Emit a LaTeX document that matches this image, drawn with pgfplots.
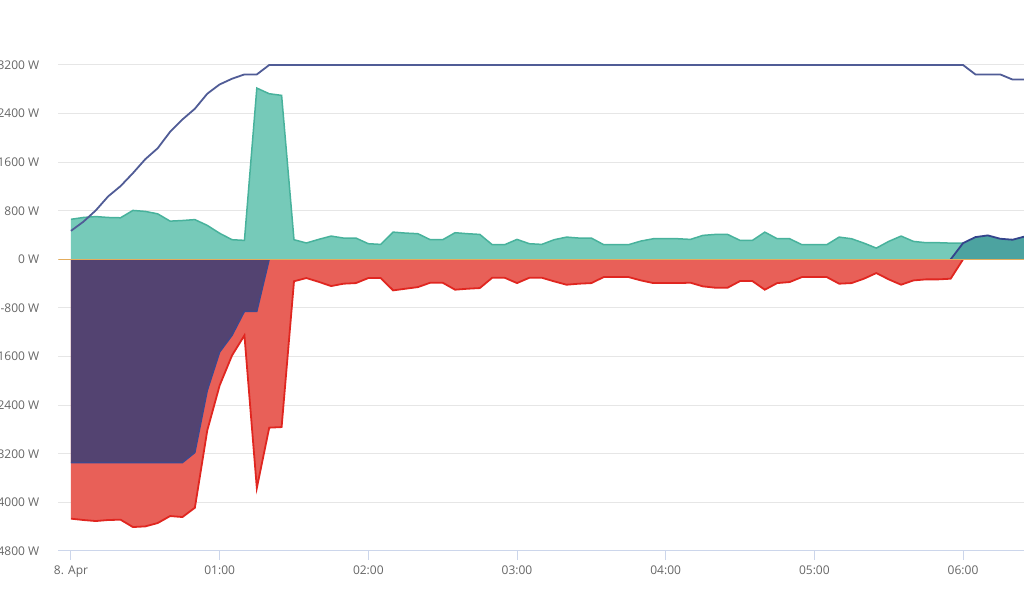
\documentclass[border=0pt]{standalone}
\usepackage{fontspec}
\setmainfont{Open Sans}
\usepackage{pgfplots}
\pgfplotsset{compat=1.18}
\usepackage{pgfplotstable}

\definecolor{tealfill}{RGB}{118,202,185}
\definecolor{tealline}{RGB}{72,178,156}
\definecolor{redfill}{RGB}{232,96,88}
\definecolor{redline}{RGB}{224,38,32}
\definecolor{purplefill}{RGB}{83,67,113}
\definecolor{purpleline}{RGB}{62,72,140}
\definecolor{darkfill}{RGB}{76,163,160}
\definecolor{darkline}{RGB}{52,68,140}
\definecolor{blueline}{RGB}{80,92,150}
\definecolor{zeroline}{RGB}{228,172,92}
\definecolor{gridgray}{RGB}{230,230,230}
\definecolor{axisblue}{RGB}{204,214,235}
\definecolor{labelgray}{RGB}{102,102,102}

% time in minutes after midnight, value in W
\pgfplotstableread{
t v
0 470
5 620
10 806
15 1037
20 1206
25 1420
30 1650
35 1830
40 2100
45 2304
50 2480
55 2727
60 2880
65 2974
70 3045
75 3045
80 3200
360 3200
365 3045
370 3045
375 3045
380 2960
385 2960
}\tabBlue

\pgfplotstableread{
t v
0 660
5 690
10 705
15 690
20 685
25 806
30 790
35 750
40 630
45 640
50 655
55 560
60 430
65 324
70 313
75 2820
80 2727
85 2700
90 324
95 270
100 330
105 384
110 351
115 351
120 258
125 247
130 449
135 433
140 423
145 324
150 324
155 439
160 423
165 411
170 242
175 242
180 329
185 258
190 247
195 324
200 367
205 351
210 351
215 242
220 242
225 242
230 302
235 340
240 340
245 340
250 329
255 395
260 411
265 411
270 313
275 313
280 449
285 340
290 340
295 242
300 242
305 242
310 367
315 340
320 268
325 186
330 296
335 384
340 296
345 275
350 275
355 268
360 268
365 0
}\tabTeal

\pgfplotstableread{
t v
0 -4268
5 -4290
10 -4307
15 -4290
20 -4285
25 -4406
30 -4395
35 -4340
40 -4225
45 -4241
50 -4088
55 -2815
60 -2074
65 -1580
70 -1251
75 -3764
80 -2770
85 -2760
90 -360
95 -307
100 -370
105 -439
110 -400
115 -390
120 -307
125 -307
130 -510
135 -483
140 -456
145 -384
150 -384
155 -499
160 -483
165 -472
170 -302
175 -302
180 -390
185 -302
190 -302
195 -362
200 -417
205 -400
210 -390
215 -291
220 -291
225 -291
230 -346
235 -390
240 -390
245 -390
250 -384
255 -444
260 -466
265 -466
270 -357
275 -357
280 -499
285 -390
290 -373
295 -291
300 -291
305 -291
310 -400
315 -390
320 -318
325 -225
330 -329
335 -417
340 -346
345 -329
350 -329
355 -318
360 0
}\tabRed

\pgfplotstableread{
t v
0 -3345
45 -3345
50 -3180
55 -2160
60 -1526
65 -1251
70 -856
75 -856
80 0
}\tabPurple

\pgfplotstableread{
t v
355 0
360 268
365 367
370 395
375 340
380 324
385 378
}\tabDark

\begin{document}
\begin{tikzpicture}
\begin{axis}[
  scale only axis,
  width=482.85pt, height=243pt,
  xmin=-5.12, xmax=384.6,
  ymin=-4800, ymax=3200,
  axis x line*=bottom, axis y line*=left,
  x axis line style={draw=axisblue, line width=0.5pt},
  y axis line style={draw=none},
  xtick={0,60,120,180,240,300,360},
  xticklabels={8. Apr,01:00,02:00,03:00,04:00,05:00,06:00},
  ytick={-4800,-4000,-3200,-2400,-1600,-800,0,800,1600,2400,3200},
  yticklabels={-4800 W,-4000 W,-3200 W,-2400 W,-1600 W,-800 W,0 W,800 W,1600 W,2400 W,3200 W},
  tick align=outside,
  major tick length=4.5pt,
  xtick style={draw=axisblue, line width=0.5pt},
  ytick style={draw=none},
  ymajorgrids,
  grid style={draw=gridgray, line width=0.5pt},
  tick label style={font=\fontsize{6}{7}\selectfont, text=labelgray},
  yticklabel style={xshift=-1.5pt},
  xticklabel style={yshift=0.5pt},
]
% teal area
\addplot[fill=tealfill, draw=none] table[x=t,y=v]{\tabTeal} \closedcycle;
\addplot[tealline, line width=0.75pt] table[x=t,y=v]{\tabTeal};
% red area
\addplot[fill=redfill, draw=none] table[x=t,y=v]{\tabRed} \closedcycle;
\addplot[redline, line width=0.9pt] table[x=t,y=v]{\tabRed};
% purple area
\addplot[fill=purplefill, draw=none] table[x=t,y=v]{\tabPurple} \closedcycle;
\addplot[purpleline, line width=0.7pt] table[x=t,y=v]{\tabPurple};
% dark teal area at the end
\addplot[fill=darkfill, draw=none] table[x=t,y=v]{\tabDark} \closedcycle;
\addplot[darkline, line width=0.9pt] table[x=t,y=v]{\tabDark};
% zero line
\addplot[zeroline, line width=0.8pt] coordinates {(-5.12,0) (384.6,0)};
% blue line
\addplot[blueline, line width=0.9pt] table[x=t,y=v]{\tabBlue};
\end{axis}
\pgfresetboundingbox
\useasboundingbox ([shift={(-29.15pt,-20.5pt)}]current axis.south west) rectangle ([shift={(0pt,32.5pt)}]current axis.north east);
\end{tikzpicture}
\end{document}
